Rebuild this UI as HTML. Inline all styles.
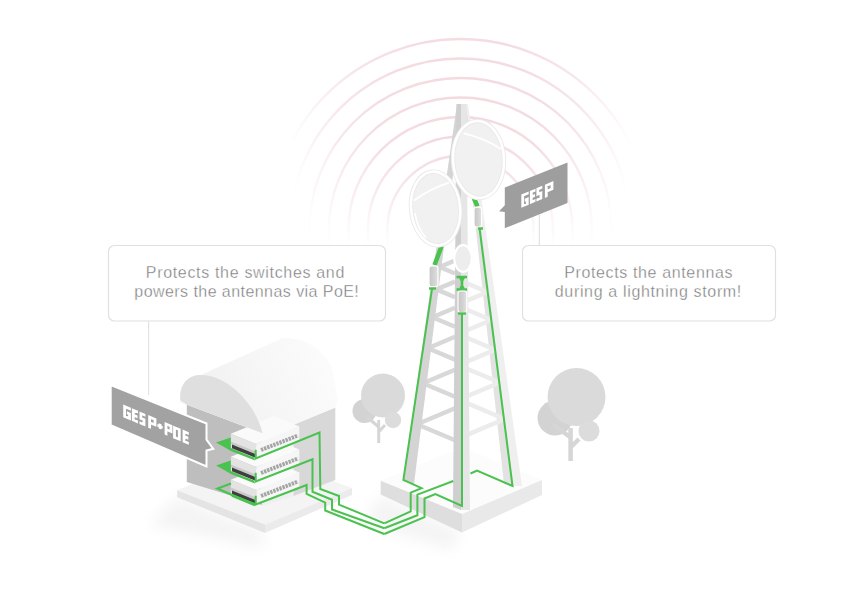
<!DOCTYPE html>
<html><head><meta charset="utf-8">
<style>
html,body{margin:0;padding:0;background:#fff;width:842px;height:610px;overflow:hidden}
svg{display:block}
.t{font-family:"Liberation Sans",sans-serif;font-size:16px;fill:#777777;stroke:#fff;stroke-width:0.35;paint-order:fill}
.tag{font-family:"Liberation Sans",sans-serif;font-weight:bold;fill:#fff;stroke:#fff;stroke-width:0.7}
</style></head><body>
<svg width="842" height="610" viewBox="0 0 842 610">
<defs>
<radialGradient id="wave" gradientUnits="userSpaceOnUse" cx="460.5" cy="140" r="170" gradientTransform="translate(460.5 140) scale(1 1.5) translate(-460.5 -140)">
<stop offset="0" stop-color="#f3d9de"/>
<stop offset="0.45" stop-color="#f4dce1"/>
<stop offset="0.7" stop-color="#f7e6e9"/>
<stop offset="0.88" stop-color="#fcf4f5"/>
<stop offset="1" stop-color="#ffffff"/>
</radialGradient>
<filter id="shad" x="-30%" y="-30%" width="160%" height="160%"><feGaussianBlur stdDeviation="7"/></filter>
<filter id="soft" x="-5%" y="-5%" width="110%" height="110%"><feGaussianBlur stdDeviation="0.35"/></filter>
<linearGradient id="roofg" gradientUnits="userSpaceOnUse" x1="200" y1="420" x2="330" y2="350">
<stop offset="0" stop-color="#f0f0f0"/>
<stop offset="0.6" stop-color="#f7f7f7"/>
<stop offset="1" stop-color="#fcfcfc"/>
</linearGradient>
<linearGradient id="wfade" gradientUnits="userSpaceOnUse" x1="0" y1="140" x2="0" y2="248">
<stop offset="0" stop-color="#fff"/>
<stop offset="0.5" stop-color="#aaa"/>
<stop offset="1" stop-color="#000"/>
</linearGradient>
<mask id="wmask" maskUnits="userSpaceOnUse" x="0" y="0" width="842" height="610"><rect x="0" y="0" width="842" height="260" fill="url(#wfade)"/></mask>
</defs>
<!-- radio waves -->
<g fill="none" stroke="url(#wave)" stroke-width="2.4" mask="url(#wmask)" filter="url(#soft)">
<path d="M270.5 250 V229 A190.0 190.0 0 0 1 650.5 229 V250"/>
<path d="M290.0 250 V229 A170.5 170.5 0 0 1 631.0 229 V250"/>
<path d="M309.5 250 V229 A151.0 151.0 0 0 1 611.5 229 V250"/>
<path d="M329.0 250 V229 A131.5 131.5 0 0 1 592.0 229 V250"/>
<path d="M348.5 250 V229 A112.0 112.0 0 0 1 572.5 229 V250"/>
<path d="M368.0 250 V229 A92.5 92.5 0 0 1 553.0 229 V250"/>
<path d="M387.5 250 V229 A73.0 73.0 0 0 1 533.5 229 V250"/>
</g>

<!-- info boxes -->
<rect x="108.5" y="245.5" width="277" height="75.5" rx="6" fill="#fff" stroke="#e0e0e0" stroke-width="1.15"/>
<rect x="522.5" y="245.5" width="253" height="75.5" rx="6" fill="#fff" stroke="#e0e0e0" stroke-width="1.15"/>
<text class="t" x="145.8" y="277.7" textLength="198.5" lengthAdjust="spacing">Protects the switches and</text>
<text class="t" x="134.3" y="297.4" textLength="224.5" lengthAdjust="spacing">powers the antennas via PoE!</text>
<text class="t" x="564.2" y="277.7" textLength="168.3" lengthAdjust="spacing">Protects the antennas</text>
<text class="t" x="554.8" y="297.4" textLength="186.5" lengthAdjust="spacing">during a lightning storm!</text>

<!-- connector lines -->
<line x1="148.6" y1="321" x2="148.6" y2="395" stroke="#e3e3e3" stroke-width="1.2"/>
<line x1="539.4" y1="215" x2="539.4" y2="245" stroke="#e3e3e3" stroke-width="1.2"/>


<!-- ground shadows -->
<g filter="url(#shad)" fill="#ebebeb" opacity="0.55">
<polygon points="177,497 265,533 262,548 150,525"/>
<polygon points="380.7,494.5 462,532.6 450,550 365,523"/>
</g>
<!-- trees -->
<g>
<circle cx="364.5" cy="411" r="12" fill="#d3d3d3"/>
<g stroke="#d6d6d6" stroke-width="3" fill="none" stroke-linecap="butt">
<path d="M378.7 420 V443"/><path d="M378.7 427 L367 417"/><path d="M378.7 432 L385 425"/>
</g>
<circle cx="383" cy="395.5" r="22" fill="#dadada"/>
<circle cx="393" cy="420" r="8.2" fill="#dcdcdc"/>
<circle cx="555" cy="418" r="17.5" fill="#d3d3d3"/>
<g stroke="#d6d6d6" stroke-width="4.5" fill="none">
<path d="M570.6 428 V461"/><path d="M570 437 L553.4 425"/><path d="M571 447 L579 439"/>
</g>
<circle cx="576.5" cy="397" r="29" fill="#dadada"/>
<circle cx="589" cy="431" r="10.5" fill="#dcdcdc"/>
</g>

<!-- tower slab -->
<g>
<polygon points="380.7,480.7 462,447 542,480 462,514" fill="#fcfcfc"/>
<polygon points="380.7,480.7 462,514 462,532.6 380.7,494.5" fill="#dedede"/>
<polygon points="462,514 542,480 542,495 462,532.6" fill="#e9e9e9"/>
</g>

<!-- tower legs -->
<g>
<polygon points="466,104 468,104 522,486 513.5,486" fill="#efefef"/>
<polygon points="462,104 466,104 513.5,486 504,484" fill="#e2e2e2"/>
<g fill="none" stroke="#ececec" stroke-width="4.5" stroke-linejoin="round">
<path d="M467 283.4 L487.5 292.0 L467 300.6 M467 309.8 L491.3 320.0 L467 330.2 M467 337.8 L495.3 349.7 L467 361.6 M467 368.7 L499.8 382.5 L467 396.3 M467 403.2 L504.7 419.0 L467 434.8"/>
</g>
<g fill="none" stroke="#d8d8d8" stroke-width="4.5" stroke-linejoin="round">
<path d="M455 260.5 L439.6 267.0 L455 273.5 M455 281.6 L436.4 289.4 L455 297.2 M455 307.8 L432.4 317.3 L455 326.8 M455 336.8 L427.9 348.2 L455 359.6 M455 369.7 L422.9 383.2 L455 396.7 M455 408.2 L417.0 424.2 L455 440.2"/>
</g>
<polygon points="457,104 462,104 414,484 403,481" fill="#d4d4d4"/>
<polygon points="456.5,104 461,104 461,510 453,507" fill="#cfcfcf"/>
<polygon points="461,104 466.5,104 470,510 461,510" fill="#e6e6e6"/>
</g>

<!-- tower cables -->
<g fill="none" stroke="#4ac24f" stroke-width="2" stroke-linejoin="miter">
<path d="M432 288.8 L403.4 479.8 L421.6 488.2 L410.7 492.6 L410.7 511.3 L384.3 523.3"/>
<path d="M479.5 228 L512.5 486 L477 470.6 L470.5 473.5"/>
<path d="M453.3 481 L417.4 494.6 L417.4 515.3 L384.3 528.2"/>
<path d="M462 312 L462 506 L435.4 494.1 L424.5 498.5 L424.5 517.2 L384.3 534"/>
</g>
<!-- cylinders & connectors -->
<defs>
<linearGradient id="cyl" x1="0" y1="0" x2="1" y2="0">
<stop offset="0" stop-color="#c6c6c6"/><stop offset="0.6" stop-color="#d4d4d4"/><stop offset="1" stop-color="#e2e2e2"/>
</linearGradient>
</defs>
<g>
<path d="M441.5 246.5 L434.5 265" stroke="#4ac24f" stroke-width="4.5"/>
<rect x="429" y="265.8" width="9" height="21" rx="2.5" fill="url(#cyl)" stroke="#fff" stroke-width="1.2"/>
<path d="M456.5 277 H467 M462 277 V289.5 M456.5 289.5 H467" stroke="#4ac24f" stroke-width="2.6" fill="none"/>
<path d="M459 278 L462 283 L465 278 Z M459 288.5 L462 284 L465 288.5 Z" fill="#4ac24f"/>
<rect x="458" y="291" width="8.8" height="21.5" rx="2.5" fill="url(#cyl)" stroke="#fff" stroke-width="1.2"/>
<path d="M474 198.5 L477.5 206.5" stroke="#4ac24f" stroke-width="4.5"/>
<rect x="474" y="207.2" width="7.6" height="19.8" rx="2.5" fill="url(#cyl)" stroke="#fff" stroke-width="1.2"/>
<path d="M478 228.5 H483" stroke="#4ac24f" stroke-width="2.4"/>
<path d="M429 288.5 H436" stroke="#4ac24f" stroke-width="2.4"/>
<path d="M458 313.5 H466" stroke="#4ac24f" stroke-width="2.4"/>
</g>

<!-- antennas -->
<g id="ant1">
<ellipse cx="435.6" cy="208.5" rx="24.5" ry="37" transform="rotate(-6 435.6 208.5)" fill="#f1f1f1" stroke="#e9e9e9" stroke-width="4.4"/>
<ellipse cx="435.6" cy="208.5" rx="24.5" ry="37" transform="rotate(-6 435.6 208.5)" fill="none" stroke="#fff" stroke-width="2.6"/>
</g>
<ellipse cx="463" cy="258.5" rx="8.8" ry="13.3" fill="#ededed" stroke="#fff" stroke-width="2.2"/>
<ellipse cx="478.5" cy="159.5" rx="25.5" ry="38.5" transform="rotate(-3 478.5 159.5)" fill="#f1f1f1" stroke="#e9e9e9" stroke-width="4.4"/>
<ellipse cx="478.5" cy="159.5" rx="25.5" ry="38.5" transform="rotate(-3 478.5 159.5)" fill="none" stroke="#fff" stroke-width="2.6"/>
<g fill="none" stroke="#fff" stroke-width="1.8">
<path d="M463.7 133.4 Q484 138 501 149"/>
<path d="M413.8 200.4 Q432 188 449.2 182.7"/>
<path d="M415 213 Q417 228 426 238"/>
</g>
<!-- GESP tag -->
<polygon points="504.8,187.6 567.5,162.5 567.5,203.1 504.8,228.2 504.8,212 499.1,211.2 504.8,205.3" fill="#9e9e9e"/>
<path transform="translate(521.3 194.6) skewY(-22.78)" d="M7.40 1.40 H1.40 V11.80 H6.00 V6.90 H3.50 M14.20 1.40 H10.00 V11.80 H14.20 M10.00 6.60 H13.70 M21.00 1.40 H16.50 V6.60 H19.60 V11.80 H15.10 M25.00 13.20 V1.40 H30.70 V7.20 H25.00" fill="none" stroke="#fff" stroke-width="2.8" stroke-linecap="butt" stroke-linejoin="miter"/>

<!-- building -->
<g>
<polygon points="177.1,490.2 262,455 352,488 265,524.6" fill="#f4f4f4"/>
<polygon points="177.1,490.2 265,524.6 265,533 177.1,497.3" fill="#e4e4e4"/>
<polygon points="265,524.6 352,488 352,495 265,533" fill="#ebebeb"/>
<polygon points="186.8,404.4 262,433 262,505 186.8,482" fill="#bebebe"/>
<polygon points="262,433.3 293.6,424.7 293.6,496 262,506" fill="#efefef"/>
<polygon points="293.6,424.7 335.3,407.6 335.3,480 293.6,496" fill="#d8d8d8"/>
<path d="M180.3 402.3 C179 386 187 375 201 375 L282 338.2 C300 337 322 345 332 368 L338 400 L335.3 407.6 L293.6 424.7 L262.6 433.3 Z" fill="url(#roofg)"/>
</g>

<!-- switches -->
<defs>
<g id="swb">
<polygon points="230.8,433.7 273.8,416.1 299.3,426.4 256.3,444" fill="#fafafa"/>
<polygon points="230.8,433.7 256.3,444 256.3,458 230.8,447.7" fill="#e3e3e3"/>
<polygon points="230.8,441.5 256.3,451.5 256.3,454 230.8,444" fill="#c9c9c9"/>
<polygon points="232,444.5 256.3,454.3 256.3,458 232,448.2" fill="#3f3f3f"/>
<polygon points="256.3,444 299.3,426.4 299.3,440.4 256.3,458" fill="#f6f6f6"/>
<path d="M261 450 L298 435.5" stroke="#a5a5a5" stroke-width="4" stroke-dasharray="2.4 0.9"/>
</g>
</defs>
<use href="#swb" transform="translate(0 46)"/>
<path d="M231 483.5 L217.5 488.5 L231 494.5 L254.5 504" fill="none" stroke="#4ac24f" stroke-width="2.2"/>
<path d="M232 495.5 L255 505" stroke="#4ac24f" stroke-width="2.5"/>
<use href="#swb" transform="translate(0 23)"/>
<polygon points="216,465.5 230.8,460.5 230.8,471.2 254,480.5 255,483.5 231,474 225,470.5" fill="#4ac24f"/>
<use href="#swb"/>
<polygon points="216,442.5 230.8,437.5 230.8,448.2 254,457.5 255,460.5 231,451 225,447.5" fill="#4ac24f"/>

<path d="M180.3 400 C179 384 188 375 201 375 C226 375 255 402 262.6 433.3 L186.8 404.4 Z" fill="#dfdfdf"/>
<!-- switch cables -->
<g fill="none" stroke="#4ac24f" stroke-width="2">
<path d="M255.7 449.7 L255.7 458.5 L319.5 432.5 L320.3 489 L339 496 L339 504.6 L384.3 523.3"/>
<path d="M255.7 472.7 L255.7 481.5 L312.5 459.3 L312.5 491.8 L332 499.7 L332 509.5 L384.3 528.2"/>
<path d="M255.7 495.7 L255.7 504.5 L306.6 485 L306.6 493.8 L325.2 502.6 L325.2 510.5 L384.3 534"/>
</g>

<!-- GESP+POE tag -->
<polygon points="110.7,385.1 206.5,423.5 206.5,439.6 213.3,448.8 206.5,450.5 206.5,466.5 110.7,425.2" fill="#a2a2a2" stroke="#fff" stroke-width="2"/>
<path transform="translate(123.2 404.6) skewY(22.78)" d="M7.70 1.40 H1.40 V11.20 H6.30 V6.60 H3.65 M14.80 1.40 H10.10 V11.20 H14.80 M10.10 6.30 H14.30 M22.20 1.40 H17.70 V6.30 H20.80 V11.20 H16.30 M26.40 12.60 V1.40 H31.80 V6.90 H26.40 M36.85 3.70 V8.90 M34.25 6.30 H39.45 M42.80 12.60 V1.40 H47.80 V6.90 H42.80 M51.30 1.40 H56.10 V11.20 H51.30 Z M65.60 1.40 H60.80 V11.20 H65.60 M60.80 6.30 H65.10" fill="none" stroke="#fff" stroke-width="2.8" stroke-linecap="butt" stroke-linejoin="miter"/>

</svg>
</body></html>
